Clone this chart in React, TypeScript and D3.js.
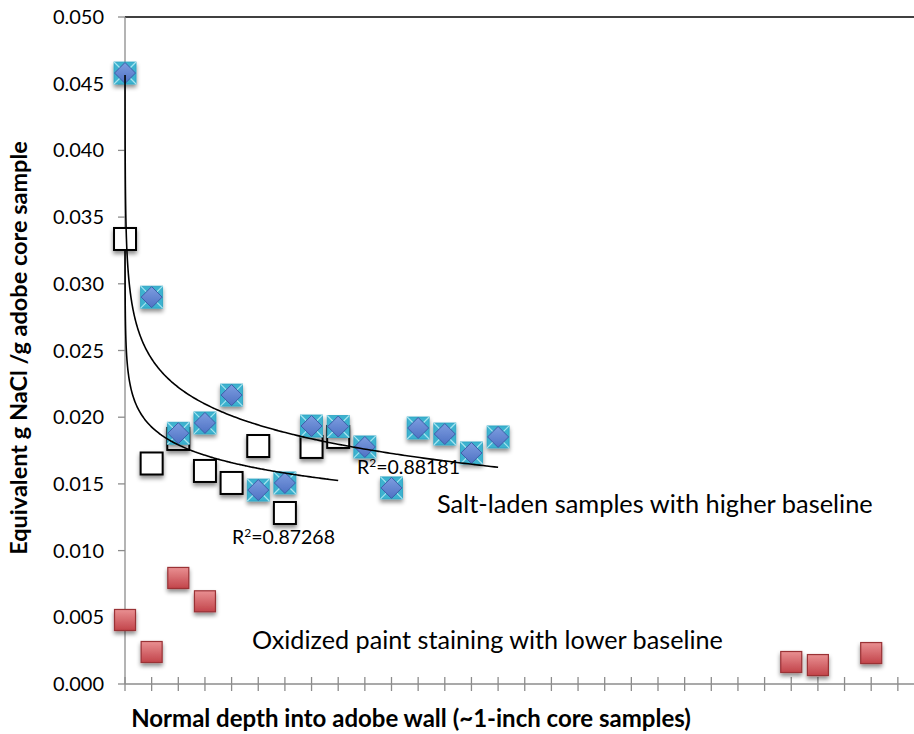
import React from "react";
import * as d3 from "d3";

// salt-laden samples (blue diamonds)
const saltX = [0.001, 1, 2, 3, 4, 5, 6, 7, 8, 9, 10, 11, 12, 13, 14];
const saltY = [0.0458, 0.029, 0.0188, 0.01957, 0.02166, 0.01454, 0.01507, 0.01934, 0.0193, 0.01777, 0.0147, 0.01919, 0.01874, 0.01732, 0.01852];

// second wall (open squares)
const wallX = [0.001, 1, 2, 3, 4, 5, 6, 7, 8];
const wallY = [0.03336, 0.01653, 0.01837, 0.01597, 0.01507, 0.01784, 0.01282, 0.01777, 0.01852];

// oxidized paint staining (red squares)
const paintX = [0.001, 1, 2, 3, 25, 26, 28];
const paintY = [0.0048, 0.0024, 0.00795, 0.0062, 0.00165, 0.00142, 0.00232];

const yTicks = [0, 0.005, 0.01, 0.015, 0.02, 0.025, 0.03, 0.035, 0.04, 0.045, 0.05];
const xTicks = d3.range(0, 30);

const W = 914;
const H = 734;
const FONT = "Lato, 'Open Sans', sans-serif";

const x = d3.scaleLinear().domain([0, 30]).range([125, 924.5]);
const y = d3.scaleLinear().domain([0, 0.05]).range([684, 17]);

// Excel-style logarithmic trendline: y = a ln(x) + b
function logFit(xs: number[], ys: number[]) {
  const L = xs.map(Math.log);
  const mx = d3.mean(L)!;
  const my = d3.mean(ys)!;
  let sxy = 0, sxx = 0;
  L.forEach((l, i) => {
    sxy += (l - mx) * (ys[i] - my);
    sxx += (l - mx) * (l - mx);
  });
  const a = sxy / sxx;
  const b = my - a * mx;
  const x0 = d3.min(xs)!;
  const x1 = d3.max(xs)!;
  const pts = [
    ...d3.range(0, 301).map((i) => x0 * Math.pow(x1 / x0, i / 300)),
    ...d3.range(0, 101).map((i) => x0 + ((x1 - x0) * i) / 100),
  ].sort((p, q) => p - q);
  return pts.map((v) => [v, a * Math.log(v) + b] as [number, number]);
}

const line = d3
  .line<[number, number]>()
  .x((d) => x(d[0]))
  .y((d) => y(d[1]));

const saltFit = logFit(saltX, saltY);
const wallFit = logFit(wallX, wallY);

const S = 11; // half marker size

function BlueMarker({ cx, cy }: { cx: number; cy: number }) {
  return (
    <g transform={`translate(${cx},${cy})`} filter="url(#shadow)">
      <rect x={-S} y={-S} width={2 * S} height={2 * S} fill="#3cb2cf" stroke="#2aa3c2" strokeWidth={0.8} />
      <path d={`M${-S},${-S}L${S},${S}M${S},${-S}L${-S},${S}`} stroke="#a6e3ef" strokeWidth={1.2} />
      <path d={`M0,${-S + 0.5}L${S - 0.5},0L0,${S - 0.5}L${-S + 0.5},0Z`} fill="url(#diamondGrad)" stroke="#3d5ea8" strokeWidth={1} />
    </g>
  );
}

function WhiteMarker({ cx, cy }: { cx: number; cy: number }) {
  return (
    <rect
      x={cx - S}
      y={cy - S}
      width={2 * S}
      height={2 * S}
      fill="#ffffff"
      stroke="#000"
      strokeWidth={2}
      filter="url(#shadow)"
    />
  );
}

function RedMarker({ cx, cy }: { cx: number; cy: number }) {
  return (
    <rect
      x={cx - 10.5}
      y={cy - 10.5}
      width={21}
      height={21}
      fill="url(#redGrad)"
      stroke="#9a3236"
      strokeWidth={1.2}
      filter="url(#shadow)"
    />
  );
}

export default function App() {
  return (
    <svg
      width={W}
      height={H}
      style={{ position: "absolute", left: 0, top: 0, background: "#fff" }}
      fontFamily={FONT}
    >
      <defs>
        <filter id="shadow" x="-50%" y="-50%" width="200%" height="200%">
          <feDropShadow dx="0" dy="3" stdDeviation="2" floodColor="#000" floodOpacity="0.45" />
        </filter>
        <linearGradient id="redGrad" x1="0" y1="0" x2="0" y2="1">
          <stop offset="0%" stopColor="#e99092" />
          <stop offset="100%" stopColor="#c2444a" />
        </linearGradient>
        <linearGradient id="diamondGrad" x1="0" y1="0" x2="0" y2="1">
          <stop offset="0%" stopColor="#7d9de0" />
          <stop offset="100%" stopColor="#4f72c4" />
        </linearGradient>
      </defs>

      {/* top border */}
      <line x1={x(0)} x2={W} y1={y(0.05)} y2={y(0.05)} stroke="#000" strokeWidth={1.3} />

      {/* y axis */}
      <line x1={x(0)} x2={x(0)} y1={y(0.05)} y2={y(0)} stroke="#8c8c8c" strokeWidth={1.3} />
      {yTicks.map((t) => (
        <g key={t}>
          <line x1={x(0) - 7} x2={x(0)} y1={y(t)} y2={y(t)} stroke="#8c8c8c" strokeWidth={1.3} />
          <text x={104} y={y(t)} dy="0.35em" textAnchor="end" fontSize={20} fill="#000">
            {d3.format(".3f")(t)}
          </text>
        </g>
      ))}

      {/* x axis */}
      <line x1={x(0)} x2={W} y1={y(0)} y2={y(0)} stroke="#8c8c8c" strokeWidth={1.3} />
      {xTicks.map((t) => (
        <line key={t} x1={x(t)} x2={x(t)} y1={y(0) - 7} y2={y(0) + 7} stroke="#8c8c8c" strokeWidth={1.3} />
      ))}

      {/* markers */}
      {wallX.map((v, i) => (
        <WhiteMarker key={"w" + i} cx={x(v)} cy={y(wallY[i])} />
      ))}
      {paintX.map((v, i) => (
        <RedMarker key={"r" + i} cx={x(v)} cy={y(paintY[i])} />
      ))}
      {saltX.map((v, i) => (
        <BlueMarker key={"b" + i} cx={x(v)} cy={y(saltY[i])} />
      ))}

      {/* trendlines */}
      <path d={line(saltFit)!} fill="none" stroke="#000" strokeWidth={1.6} />
      <path d={line(wallFit)!} fill="none" stroke="#000" strokeWidth={1.6} />

      {/* annotations */}
      <text x={357} y={474} fontSize={19.5} fill="#000">
        R<tspan dy={-7} fontSize={12}>2</tspan>
        <tspan dy={7}>=0.88181</tspan>
      </text>
      <text x={232} y={544} fontSize={19.5} fill="#000">
        R<tspan dy={-7} fontSize={12}>2</tspan>
        <tspan dy={7}>=0.87268</tspan>
      </text>
      <text x={437} y={513} fontSize={25.4} fill="#000">
        Salt-laden samples with higher baseline
      </text>
      <text x={252} y={649} fontSize={25.2} fill="#000">
        Oxidized paint staining with lower baseline
      </text>

      {/* axis titles */}
      <text x={411} y={727} textAnchor="middle" fontSize={24} fontWeight="bold" fill="#000">
        Normal depth into adobe wall (~1-inch core samples)
      </text>
      <text
        transform={`translate(27,348) rotate(-90)`}
        textAnchor="middle"
        fontSize={23.5}
        fontWeight="bold"
        fill="#000"
      >
        Equivalent g NaCl /g adobe core sample
      </text>
    </svg>
  );
}
